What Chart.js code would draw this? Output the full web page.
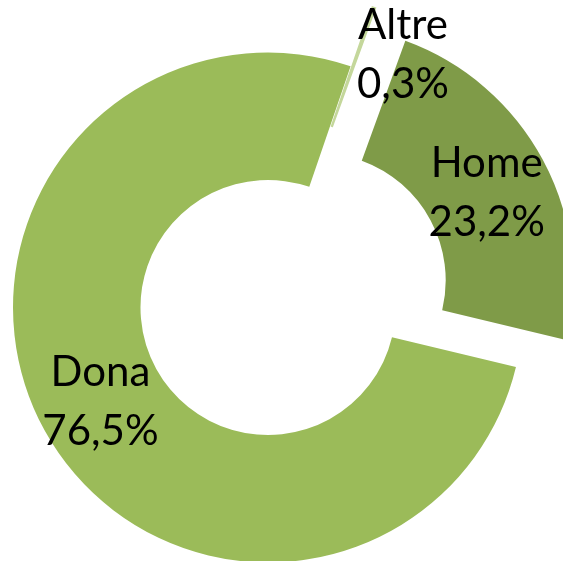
<!DOCTYPE html>
<html>
<head>
<meta charset="utf-8">
<script src="https://cdn.jsdelivr.net/npm/chart.js@4"></script>
<style>
  html, body { margin: 0; padding: 0; background: #fff; }
  canvas { display: block; }
</style>
</head>
<body>
<canvas id="chart" width="563" height="561"></canvas>
<script>
// Dati del grafico
const categories = ['Dona', 'Altre', 'Home'];
const percentages = [76.5, 0.3, 23.2];
const percentLabels = ['76,5%', '0,3%', '23,2%'];
const sliceColors = ['#9BBB59', '#C4D79B', '#7F9B48'];
// Esplosione delle fette in pixel (lungo l'angolo medio)
const explode = [0, 64, 57];

// Sposta il centro di ogni fetta esplosa (così le fette sottili non si restringono)
const explodePlugin = {
    id: 'explodeSlices',
    afterDatasetUpdate(chart, args) {
        const meta = chart.getDatasetMeta(args.index);
        meta.data.forEach((arc, i) => {
            const mid = (arc.startAngle + arc.endAngle) / 2;
            arc.x += Math.cos(mid) * explode[i];
            arc.y += Math.sin(mid) * explode[i];
        });
    }
};

// Etichette scritte sopra le fette (nome + percentuale)
const labelPlugin = {
    id: 'sliceLabels',
    afterDatasetsDraw(chart) {
        const ctx = chart.ctx;
        const meta = chart.getDatasetMeta(0);
        const nudge = [[0, 2], [50, -12], [0, 2]];
        ctx.save();
        ctx.font = '42px Lato, "Open Sans", sans-serif';
        ctx.fillStyle = '#000';
        ctx.textAlign = 'center';
        ctx.textBaseline = 'middle';
        meta.data.forEach((arc, i) => {
            const mid = (arc.startAngle + arc.endAngle) / 2;
            const r = (arc.innerRadius + arc.outerRadius) / 2;
            const x = arc.x + Math.cos(mid) * r + nudge[i][0];
            const y = arc.y + Math.sin(mid) * r + nudge[i][1];
            ctx.fillText(categories[i], x, y - 29);
            ctx.fillText(percentLabels[i], x, y + 30);
        });
        ctx.restore();
    }
};

const ctx = document.getElementById('chart').getContext('2d');
new Chart(ctx, {
    type: 'doughnut',
    data: {
        labels: categories,
        datasets: [{
            data: percentages,
            backgroundColor: sliceColors,
            borderWidth: 0,
            clip: false
        }]
    },
    options: {
        responsive: false,
        animation: false,
        rotation: 103.5,
        cutout: '50%',
        radius: 255,
        layout: {
            padding: { left: 0, right: 27, top: 54, bottom: 0 }
        },
        plugins: {
            legend: { display: false },
            tooltip: { enabled: false }
        }
    },
    plugins: [explodePlugin, labelPlugin]
});
</script>
</body>
</html>
